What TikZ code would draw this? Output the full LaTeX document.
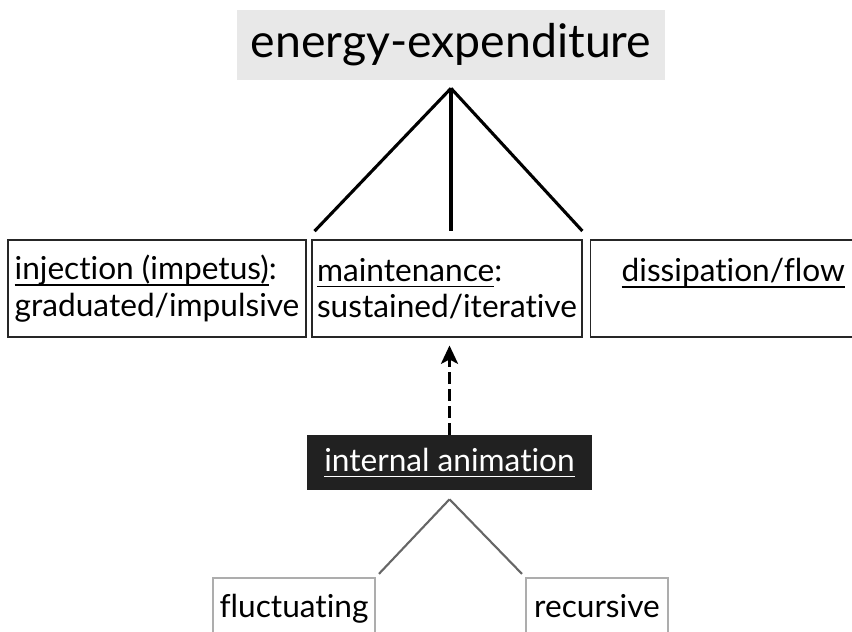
\documentclass[tikz,border=0pt]{standalone}
\usepackage{fontspec}
\setmainfont{Lato}[Ligatures={NoCommon,NoRare,NoContextual}]
\usetikzlibrary{arrows.meta}
\newcommand{\undl}[1]{\sbox0{#1}\rlap{\rule[-4.3pt]{\wd0}{1.1pt}}\usebox0}

\begin{document}
\begin{tikzpicture}[
    x=0.025cm,
    y=-0.025cm,
    font=\fontsize{22.5}{26}\selectfont,
    titel/.style={
        fill=black!9,
        minimum width=10.7cm,
        minimum height=1.75cm,
        font=\fontsize{33}{40}\selectfont
    },
    aspekt/.style={
        draw=black!85,
        line width=1pt,
        align=left,
        minimum height=2.425cm
    },
    intern/.style={
        fill=black!87,
        text=white,
        minimum width=7.125cm,
        minimum height=1.375cm
    },
    modus/.style={
        draw=black!32,
        line width=0.8pt,
        text height=16pt,
        text depth=5pt,
        minimum height=1.6cm
    },
    ast/.style={line width=2.2pt},
    zweig/.style={line width=1.5pt, draw=black!60}
]
    \useasboundingbox (0,0) rectangle (852,631);

    \node[titel] (energie) at (451,45) {energy-expenditure};

    \node[aspekt, minimum width=7.45cm] (injektion) at (157,288.5)
        {\undl{injection (impetus)}:\\graduated/impulsive};
    \node[aspekt, minimum width=6.75cm] (erhalt) at (447,288.5)
        {\undl{maintenance}:\\sustained/iterative};
    \node[aspekt, anchor=west, inner xsep=0.775cm, text width=6.5cm] (dissipation) at (590,288.5)
        {\undl{dissipation/flow}\\\mbox{}};

    \coordinate (spitze) at ([yshift=-0.2cm]energie.south);
    \draw[ast, shorten >=8pt] (spitze) -- (injektion.north east);
    \draw[ast, shorten >=5.7pt] (spitze) -- (spitze |- erhalt.north);
    \draw[ast, shorten >=8pt] (spitze) -- (dissipation.north west);

    \node[intern] (animation) at (449.5,462.5) {\undl{internal animation}};
    \draw[line width=2.4pt, dash pattern=on 8.5pt off 3.5pt,
        -{Stealth[length=13pt, width=12pt, inset=3pt]}, shorten >=5.5pt]
        (animation.north) -- (animation.north |- erhalt.south);

    \node[modus, minimum width=4.05cm] (fluktuierend) at (294,610) {fluctuating};
    \node[modus, minimum width=3.55cm] (rekursiv) at (597,610) {recursive};

    \coordinate (gabel) at ([yshift=-0.225cm]animation.south);
    \draw[zweig, shorten >=3.5pt] (gabel) -- (fluktuierend.north east);
    \draw[zweig, shorten >=3.5pt] (gabel) -- (rekursiv.north west);
\end{tikzpicture}
\end{document}
